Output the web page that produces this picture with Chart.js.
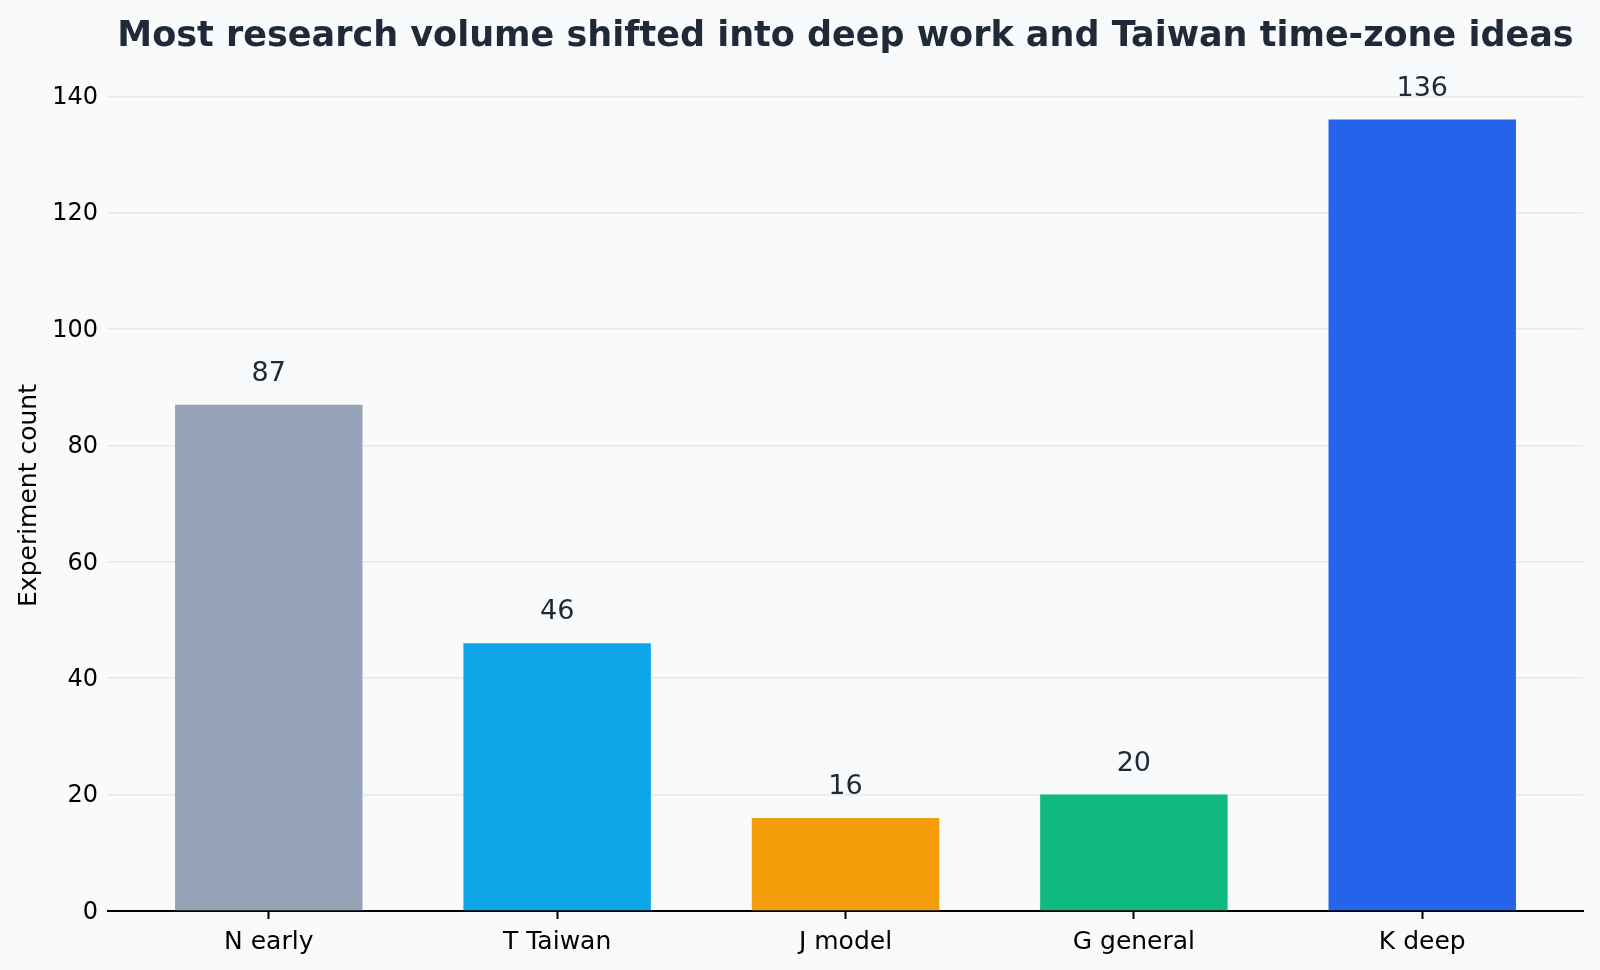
<!DOCTYPE html>
<html>
<head>
<meta charset="utf-8">
<title>Experiment count by category</title>
<script src="https://cdn.jsdelivr.net/npm/chart.js@4.4.1/dist/chart.umd.min.js"></script>
<style>
  html, body { margin: 0; padding: 0; background: #f8fafc; }
  canvas { display: block; }
</style>
</head>
<body>
<canvas id="countChart" width="1600" height="970"></canvas>
<script>
const categories = ['N early', 'T Taiwan', 'J model', 'G general', 'K deep'];
const counts = [87, 46, 16, 20, 136];
const barColors = ['#94a3b8', '#0ea5e9', '#f59e0b', '#10b981', '#2563eb'];
const yTicks = [0, 20, 40, 60, 80, 100, 120, 140];

const chartTitle = 'Most research volume shifted into deep work and Taiwan time-zone ideas';
const font = '"DejaVu Sans", "Liberation Sans", sans-serif';

const backgroundPlugin = {
  id: 'background',
  beforeDraw(chart) {
    const ctx = chart.ctx;
    ctx.save();
    ctx.fillStyle = '#f8fafc';
    ctx.fillRect(0, 0, chart.width, chart.height);
    ctx.restore();
  }
};

// title centred over the plot area, not the whole canvas
const titlePlugin = {
  id: 'plotTitle',
  afterDraw(chart) {
    const ctx = chart.ctx;
    const area = chart.chartArea;
    ctx.save();
    ctx.font = 'bold 35px ' + font;
    ctx.fillStyle = '#1f2937';
    ctx.textAlign = 'center';
    ctx.textBaseline = 'alphabetic';
    ctx.fillText(chartTitle, (area.left + area.right) / 2, 46);
    ctx.restore();
  }
};

const valueLabels = {
  id: 'valueLabels',
  afterDatasetsDraw(chart) {
    const ctx = chart.ctx;
    const meta = chart.getDatasetMeta(0);
    ctx.save();
    ctx.font = '27px ' + font;
    ctx.fillStyle = '#1f2937';
    ctx.textAlign = 'center';
    ctx.textBaseline = 'alphabetic';
    meta.data.forEach((bar, i) => {
      ctx.fillText(String(counts[i]), bar.x, bar.y - 24);
    });
    ctx.restore();
  }
};

const ctx = document.getElementById('countChart').getContext('2d');
new Chart(ctx, {
  type: 'bar',
  data: {
    datasets: [{
      label: 'Experiment count',
      data: counts.map((v, i) => ({ x: i, y: v })),
      backgroundColor: barColors,
      borderWidth: 0,
      barPercentage: 0.65,
      categoryPercentage: 1
    }]
  },
  options: {
    responsive: false,
    animation: false,
    layout: {
      padding: { left: 0, right: 17, top: 80, bottom: 0 }
    },
    scales: {
      x: {
        type: 'linear',
        min: -0.5575,
        max: 4.5575,
        offset: false,
        z: 1,
        afterBuildTicks(axis) {
          axis.ticks = categories.map((c, i) => ({ value: i }));
        },
        afterFit(scale) {
          scale.height = 59;
        },
        border: { display: true, color: '#000000', width: 2 },
        grid: {
          offset: false,
          drawOnChartArea: false,
          drawTicks: true,
          tickLength: 8,
          tickWidth: 2,
          tickColor: '#000000'
        },
        ticks: {
          autoSkip: false,
          maxRotation: 0,
          padding: 8,
          color: '#000000',
          font: { family: font, size: 25 },
          callback: (value) => categories[value]
        }
      },
      y: {
        min: 0,
        max: 142.8,
        z: 1,
        afterBuildTicks(axis) {
          axis.ticks = yTicks.map(v => ({ value: v }));
        },
        afterFit(scale) {
          scale.width = 108;
        },
        border: { display: false },
        grid: {
          color: 'rgba(148, 163, 184, 0.2)',
          lineWidth: 1.5,
          drawTicks: false
        },
        ticks: {
          padding: 10,
          labelOffset: 1.5,
          color: '#000000',
          font: { family: font, size: 24 }
        },
        title: {
          display: true,
          text: 'Experiment count',
          color: '#000000',
          font: { family: font, size: 25 },
          padding: { top: 14, bottom: 0 }
        }
      }
    },
    plugins: {
      legend: { display: false },
      tooltip: { enabled: false },
      title: { display: false }
    }
  },
  plugins: [backgroundPlugin, valueLabels, titlePlugin]
});
</script>
</body>
</html>
